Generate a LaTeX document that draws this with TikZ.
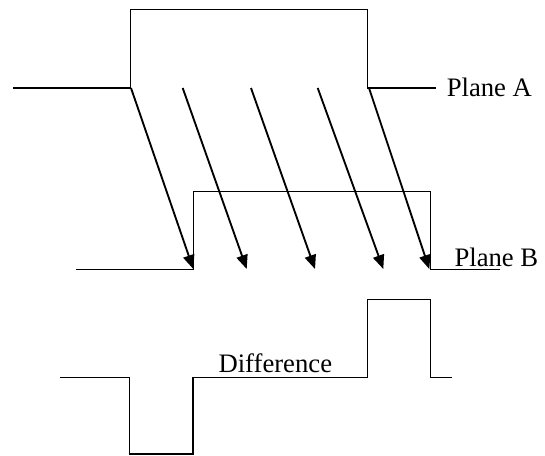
\documentclass[tikz,border=0pt]{standalone}
\usepackage{fontspec}
\setmainfont{Liberation Serif}
\usetikzlibrary{arrows.meta}
\begin{document}
\begin{tikzpicture}[x=0.75pt,y=-0.75pt,
  signal/.style={line width=0.8pt,line join=miter},
  ray/.style={line width=1.4pt,-{Triangle[length=10.5pt,width=8.5pt]}},
  lbl/.style={inner sep=0pt,anchor=base west,font=\fontsize{20}{24}\selectfont}]
\useasboundingbox (0,0) rectangle (545,455);
% Plane A
\draw[signal] (13,88) -- (130.5,88) -- (130.5,9.5) -- (367.7,9.5) -- (367.7,88) -- (435.7,88);
\node[lbl] (pa) at (446.5,96) {Plane A};
% Plane B
\draw[signal] (76,269.3) -- (193.3,269.3) -- (193.3,191.3) -- (430.3,191.3) -- (430.3,269.3) -- (500,269.3);
\node[lbl] (pb) at (454.3,266.7) {Plane B};
% Difference
\draw[signal] (60,377.7) -- (129.3,377.7) -- (129.3,454) -- (193,454) -- (193,377.7) -- (367.7,377.7) -- (367.7,299.7) -- (430.3,299.7) -- (430.3,377.7) -- (451.7,377.7);
\node[lbl] (df) at (218.3,372.3) {Difference};
% arrows
\coordinate (s1) at (131,88);   \coordinate (e1) at (193.3,269);
\coordinate (s2) at (182.7,88); \coordinate (e2) at (246.7,269);
\coordinate (s3) at (251,88);   \coordinate (e3) at (315,269);
\coordinate (s4) at (317.7,88); \coordinate (e4) at (383.3,269);
\coordinate (s5) at (369,88);   \coordinate (e5) at (429.3,269);
\foreach \i in {1,...,5} \draw[ray] (s\i) -- (e\i);
\end{tikzpicture}
\end{document}
